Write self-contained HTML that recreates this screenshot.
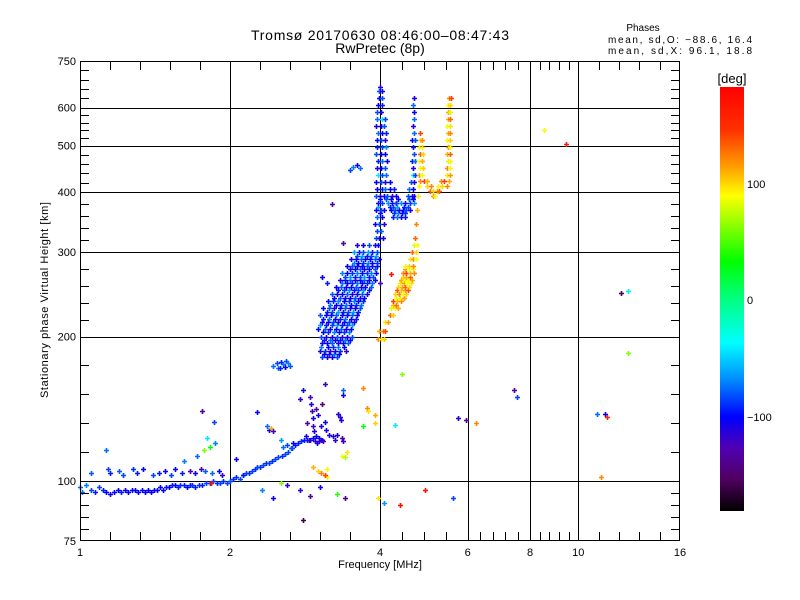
<!DOCTYPE html>
<html><head><meta charset="utf-8"><title>Ionogram</title>
<style>
html,body{margin:0;padding:0;background:#fff;}
svg{display:block;font-family:"Liberation Sans",sans-serif;}
</style></head>
<body>
<svg id="chart" width="800" height="600" viewBox="0 0 800 600" xmlns="http://www.w3.org/2000/svg">
<defs>
<linearGradient id="cbar" x1="0" y1="1" x2="0" y2="0">
<stop offset="0" stop-color="#000000"/>
<stop offset="0.075" stop-color="#500060"/>
<stop offset="0.15" stop-color="#5000b4"/>
<stop offset="0.222" stop-color="#0000ff"/>
<stop offset="0.31" stop-color="#008cff"/>
<stop offset="0.397" stop-color="#00ffff"/>
<stop offset="0.5" stop-color="#00ff80"/>
<stop offset="0.589" stop-color="#00ff00"/>
<stop offset="0.744" stop-color="#ffff00"/>
<stop offset="0.81" stop-color="#ffa000"/>
<stop offset="0.9" stop-color="#ff3000"/>
<stop offset="1" stop-color="#ff0000"/>
</linearGradient>
</defs>
<g id="grid"></g>
<g id="marks"></g>
<g id="axes"></g>
<text x="380" y="40" text-anchor="middle" font-size="14" textLength="258">Tromsø 20170630 08:46:00–08:47:43</text>
<text x="380" y="53" text-anchor="middle" font-size="14">RwPretec (8p)</text>
<text x="643" y="31" text-anchor="middle" font-size="10">Phases</text>
<text x="752" y="43" text-anchor="end" font-size="10" textLength="144">mean, sd,O: −88.6, 16.4</text>
<text x="752" y="54" text-anchor="end" font-size="10" textLength="144">mean, sd,X:  96.1, 18.8</text>
<text x="380" y="568" text-anchor="middle" font-size="11">Frequency [MHz]</text>
<text transform="translate(48,300) rotate(-90)" text-anchor="middle" font-size="11" textLength="196">Stationary phase Virtual Height [km]</text>
<g>
<rect x="720" y="87" width="24" height="424" fill="url(#cbar)"/>
<text x="732" y="83" text-anchor="middle" font-size="13">[deg]</text>
<text x="747" y="188" font-size="11">100</text>
<text x="747" y="304" font-size="11">0</text>
<text x="747" y="421" font-size="11">−100</text>
</g>
</svg>
<script>
// ---- data (frequency MHz, virtual height km, phase deg) ----
const xMajorTicks = [1, 2, 4, 6, 8, 10, 16];
const xTickLabels = ["1", "2", "4", "6", "8", "10", "16"];
const xMinorCounts = [5, 5, 4, 5, 5, 5];
const yMajorTicks = [75, 100, 200, 300, 400, 500, 600, 750];
const yTickLabels = ["75", "100", "200", "300", "400", "500", "600", "750"];
const xGridValues = [2, 4, 6, 8, 10];
const yGridValues = [100, 200, 300, 400, 500, 600];

// E-layer trace: [freq, height, phase]
const eTrace = [
[1.00,97,-60],[1.01,95,-60],[1.03,98,-55],[1.05,96,-70],[1.07,95,-80],[1.09,97,-70],[1.11,96,-80],[1.13,95,-85],
[1.15,94,-90],[1.17,95,-85],[1.19,96,-88],[1.21,95,-80],[1.23,96,-90],[1.25,95,-88],[1.27,96,-85],[1.29,96,-90],
[1.31,95,-88],[1.33,96,-85],[1.35,95,-90],[1.37,96,-88],[1.39,95,-90],[1.41,96,-85],[1.43,96,-88],[1.45,97,-85],
[1.47,96,-88],[1.49,97,-80],[1.51,97,-85],[1.53,98,-80],[1.55,98,-85],[1.57,97,-80],[1.59,98,-75],[1.62,98,-80],
[1.64,97,-85],[1.66,98,-80],[1.68,98,-75],[1.70,97,-80],[1.73,98,-75],[1.76,98,-80],[1.79,99,-70],[1.82,99,-75],
[1.85,100,-70],[1.88,99,-75],[1.91,99,-70],[1.94,100,-75],[1.97,99,-70],[2.00,100,-70],[2.03,101,-75],[2.06,102,-75],
[2.09,101,-70],[2.12,103,-75],[2.15,104,-70],[2.18,104,-75],[2.21,105,-70],[2.24,106,-75],[2.27,107,-70],[2.30,107,-75],
[2.33,108,-70],[2.36,109,-75],[2.40,109,-70],[2.43,110,-75],[2.46,111,-70],[2.50,112,-70],[2.54,113,-75],[2.58,114,-70],
[2.62,115,-70],[2.66,117,-75],[2.70,119,-80],[2.74,120,-80],[2.78,121,-75],[2.82,122,-80],[2.86,122,-80],[2.90,122,-85],
[2.94,123,-85],[2.98,124,-90],[3.02,123,-90],[3.06,122,-90]
];
// scattered points above/below E trace
const eScatter = [
[1.05,104,-65],[1.13,116,-60],[1.14,106,-70],[1.15,104,-80],[1.20,105,-65],[1.22,103,-70],[1.28,106,-75],[1.30,104,-80],
[1.34,106,-85],[1.40,103,-70],[1.44,104,-80],[1.48,105,-90],[1.52,103,-70],[1.55,106,-85],[1.60,104,-80],[1.62,110,-55],
[1.66,105,-120],[1.70,104,-90],[1.72,113,-60],[1.75,106,-120],[1.76,140,-125],[1.77,116,60],[1.78,105,-65],[1.80,123,-40],
[1.82,118,30],[1.84,104,-60],[1.86,133,-70],[1.87,120,-55],[1.90,105,-90],[1.93,103,-100],[1.83,99,170],[2.06,111,-90],
[2.12,103,-80],[2.27,139,-90],[2.37,130,-60],[2.40,128,-90],[2.42,129,110],[2.44,127,-110],[2.53,122,-50],[2.32,96,-55],
[2.44,92,-90],[2.53,99,60],[2.60,98,-100],[2.76,96,-100],[2.80,83,-155],[2.90,93,-125],[3.03,97,-90],[3.13,102,90],
[3.28,94,40],[3.40,92,-135],[3.96,92,95],[2.56,118,-60],[2.60,119,-70],[2.65,117,-65],[2.68,120,-90]
];
// E-region scatter 2.7-3.4 MHz
const eRegion = [
[2.84,124,-95],[2.88,122,-105],[2.90,150,-115],[2.91,145,-95],[2.92,140,-105],[2.93,135,-95],[2.94,130,-115],[2.95,127,-95],
[2.96,121,-105],[2.99,120,-95],[3.02,121,-105],[3.05,122,-95],[3.08,121,-115],[2.86,132,-125],[2.98,141,-125],[3.00,137,-95],
[3.04,130,-95],[3.06,145,-135],[3.10,133,-85],[3.12,128,-95],[3.16,125,-95],[3.22,124,-95],[3.25,122,-105],[3.28,125,-95],
[3.30,138,-95],[3.32,136,-105],[3.34,134,-95],[3.35,123,-125],[3.37,121,-105],[3.10,159,-105],[3.37,155,-60],[3.37,151,-90],
[2.76,148,-105],[2.80,155,-95],[3.70,156,120],[3.35,113,90],[3.40,112,70],[3.43,115,95],[2.94,107,110],[3.00,105,100],
[3.05,104,120],[3.10,103,140],[3.13,106,90],[3.76,142,120],[3.78,140,95],[3.90,137,110],[3.90,132,100],[3.70,130,30]
];
// 2.5 MHz cluster
const midCluster = [
[2.44,174,-60],[2.48,176,-70],[2.50,172,-55],[2.53,177,-80],[2.56,175,-60],[2.59,178,-70],[2.62,176,-55],[2.64,174,-65],
[2.52,172,-80],[2.58,173,-90]
];
// F-layer O-mode blob rows: [height, phase, freqs]
const fBlobRows = [
[181,-90,[3.06,3.13,3.20,3.28]],
[184,-80,[3.09,3.16,3.24,3.31]],
[187,-95,[3.03,3.10,3.17,3.25,3.33,3.42]],
[190,-75,[3.05,3.14,3.22,3.30,3.38]],
[194,-85,[3.06,3.13,3.21,3.29,3.37,3.45]],
[197,-80,[3.09,3.17,3.25,3.33,3.41,3.48]],
[200,-90,[3.05,3.12,3.20,3.28,3.36,3.44,3.52]],
[204,-75,[3.07,3.15,3.23,3.31,3.39,3.47]],
[207,-85,[3.01,3.10,3.18,3.26,3.34,3.42,3.50]],
[211,-70,[3.03,3.12,3.20,3.28,3.36,3.44,3.52]],
[214,-90,[3.06,3.14,3.22,3.30,3.38,3.46,3.54]],
[218,-80,[3.08,3.16,3.25,3.33,3.41,3.50,3.58]],
[222,-85,[3.03,3.11,3.19,3.27,3.35,3.43,3.51,3.60]],
[225,-70,[3.13,3.21,3.29,3.37,3.45,3.53,3.62]],
[229,-88,[3.08,3.16,3.24,3.32,3.40,3.48,3.56,3.64]],
[233,-78,[3.18,3.26,3.34,3.42,3.50,3.58,3.66]],
[237,-75,[3.14,3.22,3.30,3.38,3.46,3.54,3.62,3.70]],
[241,-88,[3.24,3.32,3.40,3.48,3.56,3.64,3.72]],
[245,-85,[3.20,3.28,3.36,3.44,3.52,3.60,3.68,3.76]],
[250,-72,[3.30,3.38,3.46,3.54,3.62,3.70,3.80]],
[254,-85,[3.26,3.34,3.42,3.50,3.58,3.66,3.74,3.84]],
[258,-78,[3.36,3.44,3.52,3.60,3.68,3.76,3.86]],
[262,-88,[3.32,3.40,3.48,3.56,3.64,3.72,3.80,3.90]],
[266,-70,[3.40,3.48,3.56,3.64,3.72,3.80,3.88]],
[271,-75,[3.36,3.44,3.52,3.60,3.68,3.76,3.84,3.92]],
[276,-85,[3.48,3.56,3.64,3.72,3.80,3.90]],
[281,-88,[3.44,3.52,3.60,3.68,3.76,3.86,3.95]],
[285,-75,[3.54,3.62,3.70,3.78,3.86,3.94]],
[290,-85,[3.50,3.58,3.66,3.74,3.82,3.90,3.98]],
[295,-70,[3.60,3.68,3.76,3.84,3.92]],
[300,-70,[3.55,3.63,3.70,3.78,3.86,3.94]],
[310,-88,[3.60,3.70,3.80,3.90,3.97]]
];
// F-layer O-mode column near 4 MHz and cusp: [height, phase, freqs]
const fColumnRows = [
[321,-88,[3.92,3.99,4.06]],[332,-60,[3.94,4.02]],[343,-88,[3.90,3.98,4.07]],[355,-80,[3.95,4.03,4.24,4.32,4.40,4.48]],
[361,-75,[4.00,4.26,4.34,4.42,4.50]],
[367,-88,[3.93,4.01,4.08,4.20,4.28,4.36,4.44,4.52,4.60]],[373,-70,[3.97,4.18,4.25,4.33,4.46,4.56]],
[380,-72,[3.96,4.04,4.15,4.22,4.30,4.40,4.50,4.60,4.67]],[386,-85,[4.00,4.12,4.20,4.35,4.58,4.65]],
[393,-88,[3.92,4.00,4.08,4.14,4.22,4.30,4.55,4.63,4.69]],[406,-80,[3.95,4.03,4.10,4.18,4.26,4.58,4.66]],
[420,-88,[3.93,4.01,4.09,4.18,4.62,4.68]],[434,-60,[3.96,4.04,4.12,4.65,4.71]],[449,-88,[3.94,4.02,4.10,4.66]],
[465,-80,[3.96,4.04,4.14,4.64,4.70]],[481,-88,[3.93,4.01,4.09,4.68]],[497,-70,[3.95,4.03,4.12,4.66]],
[514,-88,[3.94,4.02,4.10,4.64,4.70]],[531,-80,[3.96,4.04,4.12,4.67]],[549,-88,[3.93,4.01,4.08,4.66]],
[568,-60,[3.95,4.03,4.10,4.68]],[587,-88,[3.94,4.02,4.67]],[607,-80,[3.96,4.04,4.66]],[628,-88,[3.98,4.04,4.68]],
[649,-85,[3.99,4.03]],[662,-88,[4.00]]
];
// F-layer X-mode rows: [height, phase, freqs]
const fXRows = [
[198,100,[3.96,4.02,4.08]],[205,120,[3.98,4.05,4.10]],[214,95,[4.10,4.16]],[222,110,[4.18,4.24]],[229,90,[4.20,4.28,4.34]],
[233,105,[4.24,4.30]],
[237,120,[4.24,4.32,4.40]],[241,95,[4.30,4.38,4.46]],[245,100,[4.28,4.36,4.44,4.52]],[250,115,[4.32,4.40,4.48,4.56]],
[254,110,[4.34,4.42,4.50,4.58]],[258,95,[4.38,4.46,4.54,4.62]],[262,90,[4.40,4.48,4.56,4.64]],[266,110,[4.44,4.52,4.60]],
[271,120,[4.44,4.52,4.60,4.68]],[276,95,[4.50,4.58,4.66]],[281,100,[4.50,4.58,4.66]],[290,95,[4.60,4.66,4.72]],[300,110,[4.64,4.72]],[310,90,[4.68,4.74]],
[321,130,[4.70]],[343,100,[4.72]],[367,120,[4.74]],[393,95,[4.76,5.10,5.16]],[402,110,[5.04,5.12,5.20,5.26]],
[412,100,[4.80,4.98,5.06,5.24,5.32,5.46]],[422,120,[4.82,4.90,4.96,5.30,5.38,5.50]],[434,95,[4.80,4.86,5.44,5.52]],
[449,100,[4.82,4.88,5.46,5.52]],[465,90,[4.80,4.86,5.48,5.54]],[481,110,[4.82,4.88,5.46,5.52]],[497,95,[4.80,4.86,5.47,5.53]],
[514,100,[4.82,4.86,5.45,5.52]],[531,120,[4.81,5.48,5.54]],[549,95,[5.46,5.52]],[568,110,[5.48,5.54]],[587,90,[5.47,5.53]],
[607,100,[5.48,5.54]],[628,120,[5.50,5.55]]
];
// isolated points
const isolated = [
[3.48,445,-70],[3.53,451,-55],[3.60,455,-90],[3.65,449,-60],[3.20,377,-125],[3.37,313,-125],[3.06,266,-90],[3.13,258,-80],
[4.42,167,60],[4.29,131,-40],[4.07,90,-50],[4.39,89,170],[4.92,96,170],[5.60,92,-70],[5.74,135,-100],[5.95,134,-125],
[6.24,132,120],[7.44,155,-125],[7.55,150,-70],[8.54,538,90],[9.44,504,160],[10.9,138,-60],[11.3,138,-90],[11.4,136,150],
[11.1,102,120],[12.2,246,-150],[12.6,249,-40],[12.6,185,60],[4.30,380,-140],[4.20,270,170],[4.00,258,-110]
];
// ---- colour map (phase deg -> rgb) ----
const cmapPhase = [-180,-148,-116,-86,-52,-37,0,32,88,113,144,180];
const cmapRGB = [[0,0,0],[80,0,96],[80,0,180],[0,0,255],[0,140,255],[0,255,255],[0,255,128],[0,255,0],[255,255,0],[255,160,0],[255,48,0],[255,0,0]];

const NS = "http://www.w3.org/2000/svg";
const L = 80, R = 680, T = 61, B = 541;
function xScale(f){ return L + 150 * Math.log2(f); }
function yScale(h){ return B - 480 * Math.log10(h / 75); }
function phaseColor(p){
  for (let i = 0; i < cmapPhase.length - 1; i++){
    if (p <= cmapPhase[i+1]){
      const t = (p - cmapPhase[i]) / (cmapPhase[i+1] - cmapPhase[i]);
      const a = cmapRGB[i], b = cmapRGB[i+1];
      return "rgb(" + a.map((v,k)=>Math.round(v + (b[k]-v)*t)).join(",") + ")";
    }
  }
  return "rgb(255,0,0)";
}
function mk(tag, attrs, parent){
  const el = document.createElementNS(NS, tag);
  for (const k in attrs) el.setAttribute(k, attrs[k]);
  parent.appendChild(el);
  return el;
}
const grid = document.getElementById("grid");
const axes = document.getElementById("axes");
const marks = document.getElementById("marks");

xGridValues.forEach(v => {
  const x = Math.round(xScale(v)) + 0.5;
  const l = mk("line", {x1:x, y1:T, x2:x, y2:B, stroke:"#000", "stroke-width":1}, grid);
  
  
});
yGridValues.forEach(v => {
  const y = Math.round(yScale(v)) + 0.5;
  const l = mk("line", {x1:L, y1:y, x2:R, y2:y, stroke:"#000", "stroke-width":1}, grid);
  
  
});

function plotPoint(f, h, p){
  const x = Math.round(xScale(f)) + 0.5, y = Math.round(yScale(h)) + 0.5;
  const path = mk("path", {d:"M"+(x-2.5)+" "+y+"h5M"+x+" "+(y-2.5)+"v5", stroke:phaseColor(p), "stroke-width":1.6, fill:"none"}, marks);
  
  
}
[eTrace, eScatter, eRegion, midCluster, isolated].forEach(arr => arr.forEach(d => plotPoint(d[0], d[1], d[2])));
[fBlobRows, fColumnRows, fXRows].forEach(rows => rows.forEach((r, ri) => {
  r[2].forEach((f, i) => {
    plotPoint(f, r[0], r[1] + ((i + ri) % 3 === 0 ? 20 : ((i + ri) % 3 === 1 ? -10 : 0)));
  });
}));

// frame
const frame = mk("rect", {x:L+0.5, y:T+0.5, width:R-L-1, height:B-T-1, fill:"none", stroke:"#000", "stroke-width":1}, axes);



// x ticks
xMajorTicks.forEach((v, i) => {
  const x = xScale(v);
  const t = mk("text", {x:x, y:556, "text-anchor":"middle", "font-size":11}, axes);
  t.textContent = xTickLabels[i];
  
  
  if (i < xMajorTicks.length - 1){
    const x2 = xScale(xMajorTicks[i+1]);
    const n = xMinorCounts[i];
    for (let k = 1; k < n; k++){
      const xm = Math.round(x + (x2 - x) * k / n) + 0.5;
      const a = mk("line", {x1:xm, y1:B, x2:xm, y2:B-9, stroke:"#000"}, axes);
      
      
      const b = mk("line", {x1:xm, y1:T, x2:xm, y2:T+9, stroke:"#000"}, axes);
      
      
    }
  }
});
// y ticks
yMajorTicks.forEach((v, i) => {
  const y = yScale(v);
  const t = mk("text", {x:76, y:y+4, "text-anchor":"end", "font-size":11}, axes);
  t.textContent = yTickLabels[i];
  
  
  if (i < yMajorTicks.length - 1){
    const y2 = yScale(yMajorTicks[i+1]);
    for (let k = 1; k < 5; k++){
      const ym = Math.round(y + (y2 - y) * k / 5) + 0.5;
      const a = mk("line", {x1:L, y1:ym, x2:L+9, y2:ym, stroke:"#000"}, axes);
      
      
      const b = mk("line", {x1:R-9, y1:ym, x2:R, y2:ym, stroke:"#000"}, axes);
      
      
    }
  }
});
</script>
</body></html>
